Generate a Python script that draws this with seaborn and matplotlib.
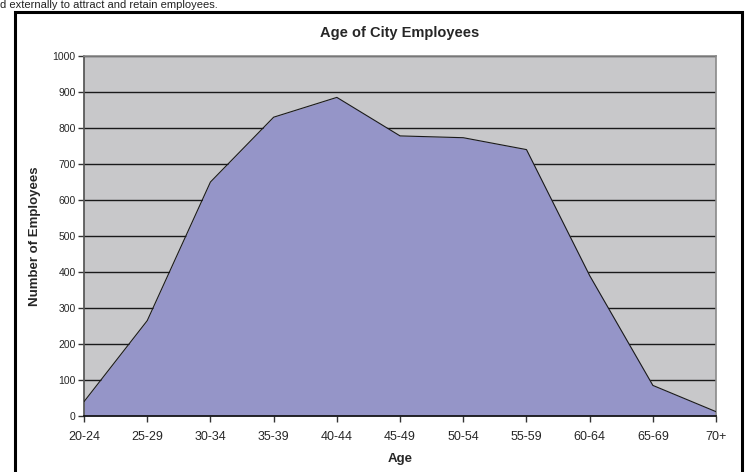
import numpy as np
import pandas as pd
import matplotlib.pyplot as plt
import seaborn as sns
from matplotlib.patches import Rectangle

# values
age_groups = ['20-24', '25-29', '30-34', '35-39', '40-44', '45-49',
              '50-54', '55-59', '60-64', '65-69', '70+']
employees = [40, 265, 650, 830, 885, 778, 773, 740, 390, 85, 12]
y_ticks = [0, 100, 200, 300, 400, 500, 600, 700, 800, 900, 1000]

df = pd.DataFrame({'age': age_groups, 'count': employees})
df['pos'] = np.arange(len(df))

sns.set_theme(style='white')
plt.rcParams['font.family'] = ['Liberation Sans', 'DejaVu Sans']

fig = plt.figure(figsize=(7.45, 4.72), dpi=100)
ax = fig.add_axes([0.1128, 0.1186, 0.8484, 0.7628])

ax.set_facecolor('#c8c8ca')
for v in y_ticks[1:]:
    ax.axhline(v, color='#1a1a1a', linewidth=1.0, zorder=1)

ax.fill_between(df['pos'], df['count'], 0, color='#9595c8', zorder=2, linewidth=0)
sns.lineplot(data=df, x='pos', y='count', color='#1a1a1a', linewidth=0.8,
             ax=ax, zorder=3)

ax.set_xlim(0, len(df) - 1)
ax.set_ylim(0, 1000)
ax.set_xticks(df['pos'])
ax.set_xticklabels(age_groups, fontsize=9)
ax.set_yticks(y_ticks)
ax.set_yticklabels([str(v) for v in y_ticks], fontsize=7.5)
ax.tick_params(axis='both', length=4, width=1, color='#333333', direction='out',
               bottom=True, left=True)
ax.tick_params(axis='x', pad=7)
ax.tick_params(axis='y', pad=2)

for side in ['top', 'right']:
    ax.spines[side].set_color('#8a8a8a')
    ax.spines[side].set_linewidth(1.2)
ax.spines['left'].set_color('#555555')
ax.spines['bottom'].set_color('#111111')

ax.set_xlabel('Age', fontsize=9.5, fontweight='bold', labelpad=7)
ax.set_ylabel('Number of Employees', fontsize=9.5, fontweight='bold', labelpad=8)
ax.set_title('Age of City Employees', fontsize=10.5, fontweight='bold', pad=14)

# frame of the embedded chart
fig.patches.append(Rectangle((0.02, -0.05), 0.976, 1.024, transform=fig.transFigure,
                             fill=False, edgecolor='black', linewidth=2.2))

# document line above the chart in the scan
fig.text(0.0, 0.999, 'd externally to attract and retain employees.', fontsize=8,
         ha='left', va='top', color='#222222')

plt.savefig('out.png', dpi=100)
plt.close()
